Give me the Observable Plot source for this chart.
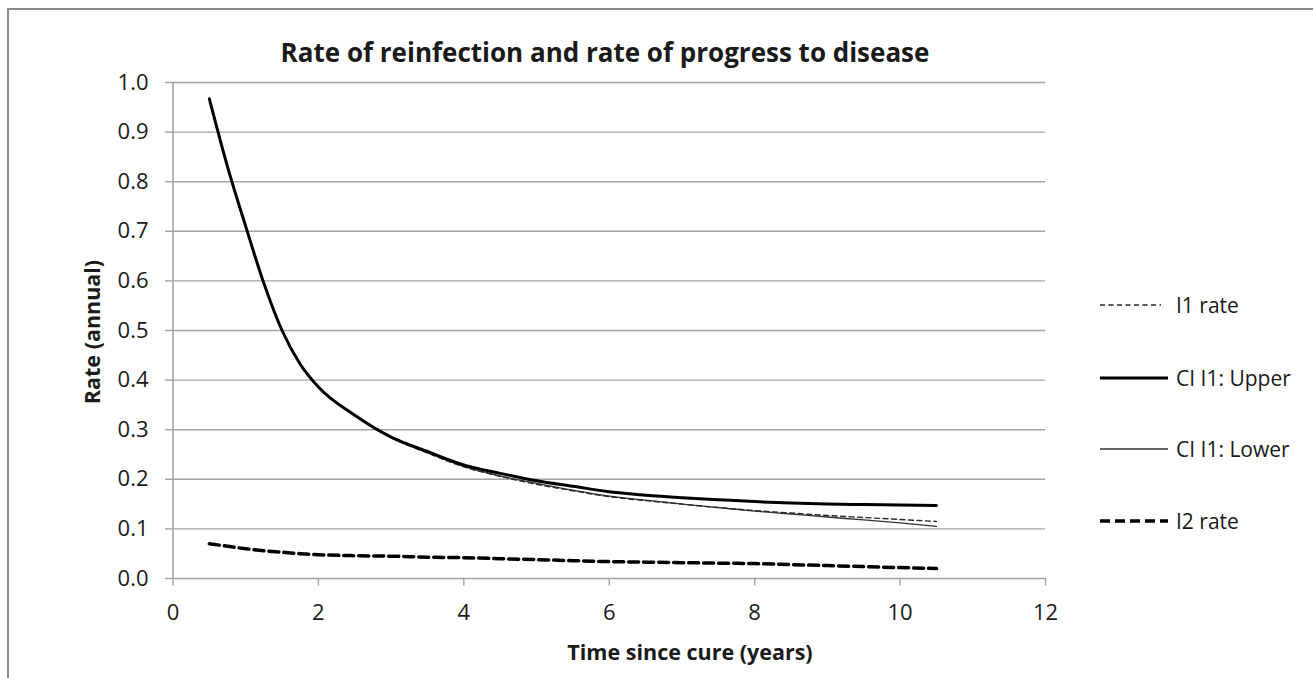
<!DOCTYPE html>
<html>
<head>
<meta charset="utf-8">
<script src="https://cdn.jsdelivr.net/npm/d3@7"></script>
<script src="https://cdn.jsdelivr.net/npm/@observablehq/plot@0.6"></script>
<style>
  html, body { margin: 0; padding: 0; background: #fff; overflow: hidden; }
  #wrap { position: relative; width: 1313px; height: 678px; font-family: "Open Sans", sans-serif; color: #1a1a1a; }
  #frame { position: absolute; left: 7px; top: 8px; width: 1400px; height: 800px; border-left: 2px solid #8a8a8a; border-top: 2px solid #8a8a8a; box-sizing: border-box; }
  #chart { position: absolute; left: 0; top: 0; }
  .title { position: absolute; font-weight: 700; font-size: 26px; white-space: nowrap; transform: translate(-50%, -50%); }
  .ytitle { position: absolute; font-weight: 700; font-size: 21.5px; white-space: nowrap; transform: translate(-50%, -50%) rotate(-90deg); }
  .xtitle { position: absolute; font-weight: 700; font-size: 21.5px; white-space: nowrap; transform: translate(-50%, -50%); }
  .leg { position: absolute; left: 1098px; display: flex; align-items: center; transform: translateY(-50%); font-size: 21px; white-space: nowrap; }
  .leg svg { margin-right: 6px; }
</style>
</head>
<body>
<div id="wrap">
  <div id="frame"></div>
  <div id="chart"></div>
</div>
<script>
// ---- data ----
const years = [0.5, 0.75, 1, 1.25, 1.5, 1.75, 2, 2.5, 3, 3.5, 4, 4.5, 5, 5.5, 6, 6.5, 7, 7.5, 8, 8.5, 9, 9.5, 10, 10.5];
const i1Rate  = [0.967, 0.83, 0.71, 0.595, 0.50, 0.432, 0.386, 0.329, 0.284, 0.253, 0.225, 0.206, 0.190, 0.177, 0.165, 0.157, 0.150, 0.143, 0.137, 0.132, 0.127, 0.123, 0.119, 0.115];
const ciUpper = [0.967, 0.83, 0.71, 0.595, 0.50, 0.432, 0.386, 0.329, 0.285, 0.256, 0.229, 0.212, 0.197, 0.186, 0.175, 0.168, 0.163, 0.159, 0.155, 0.152, 0.150, 0.149, 0.148, 0.147];
const ciLower = [0.967, 0.83, 0.71, 0.595, 0.50, 0.432, 0.386, 0.329, 0.285, 0.254, 0.226, 0.207, 0.192, 0.178, 0.166, 0.158, 0.150, 0.143, 0.136, 0.130, 0.124, 0.118, 0.112, 0.105];
const i2Rate  = [0.070, 0.065, 0.060, 0.056, 0.053, 0.050, 0.048, 0.046, 0.045, 0.043, 0.042, 0.040, 0.038, 0.036, 0.034, 0.033, 0.032, 0.031, 0.030, 0.028, 0.026, 0.024, 0.022, 0.020];
const seriesNames = ["I1 rate", "CI I1: Upper", "CI I1: Lower", "I2 rate"];
const xTicks = [0, 2, 4, 6, 8, 10, 12];
const yTicks = [0, 0.1, 0.2, 0.3, 0.4, 0.5, 0.6, 0.7, 0.8, 0.9, 1.0];
const titleText = "Rate of reinfection and rate of progress to disease";
const xLabel = "Time since cure (years)";
const yLabel = "Rate (annual)";

const styles = {
  "I1 rate":      {stroke: "#2a2a2a", strokeWidth: 1.4, dash: "5,3.5"},
  "CI I1: Upper": {stroke: "#000",    strokeWidth: 3,   dash: null},
  "CI I1: Lower": {stroke: "#333",    strokeWidth: 1.3, dash: null},
  "I2 rate":      {stroke: "#000",    strokeWidth: 3.5, dash: "10,5"}
};
const valuesBy = {"I1 rate": i1Rate, "CI I1: Upper": ciUpper, "CI I1: Lower": ciLower, "I2 rate": i2Rate};
const rows = n => years.map((x, i) => ({x, y: valuesBy[n][i]}));

const lineMark = n => Plot.line(rows(n), {
  x: "x", y: "y", curve: "monotone-x",
  stroke: styles[n].stroke, strokeWidth: styles[n].strokeWidth,
  strokeDasharray: styles[n].dash || undefined
});

const grid = "#a3a3a3";
const plot = Plot.plot({
  width: 1313, height: 678,
  marginLeft: 172.5, marginRight: 268, marginTop: 82, marginBottom: 100,
  x: {domain: [0, 12]},
  y: {domain: [0, 1]},
  style: {fontFamily: "Open Sans, sans-serif", fontSize: "22px", background: "transparent", overflow: "visible"},
  marks: [
    Plot.ruleY(yTicks.filter(d => d > 0), {stroke: grid, strokeWidth: 1.4}),
    Plot.axisY({ticks: yTicks, tickSize: 7.5, tickPadding: 17, tickFormat: d3.format(".1f"), stroke: grid, strokeWidth: 1.4, color: "#1a1a1a", label: null}),
    Plot.axisX({ticks: xTicks, tickSize: 7.5, tickPadding: 18, tickFormat: d3.format("d"), stroke: grid, strokeWidth: 1.4, color: "#1a1a1a", label: null}),
    Plot.ruleX([0], {stroke: grid, strokeWidth: 1.6}),
    Plot.ruleY([0], {stroke: grid, strokeWidth: 1.6}),
    lineMark("I2 rate"),
    lineMark("CI I1: Lower"),
    lineMark("I1 rate"),
    lineMark("CI I1: Upper")
  ]
});
document.getElementById("chart").appendChild(plot);

const wrap = document.getElementById("wrap");
function addDiv(cls, text, left, top) {
  const d = document.createElement("div");
  d.className = cls; d.textContent = text;
  d.style.left = left + "px"; d.style.top = top + "px";
  wrap.appendChild(d);
  return d;
}
addDiv("title", titleText, 605, 52);
addDiv("ytitle", yLabel, 91, 332);
addDiv("xtitle", xLabel, 690, 651);

const legendY = [305, 378, 449, 521];
seriesNames.forEach((n, i) => {
  const d = document.createElement("div");
  d.className = "leg";
  d.style.top = legendY[i] + "px";
  const s = styles[n];
  const w = n === "I1 rate" ? 63 : 70;
  d.innerHTML = `<svg width="72" height="10"><line x1="2" x2="${w}" y1="5" y2="5" stroke="${s.stroke}" stroke-width="${s.strokeWidth}" ${s.dash ? `stroke-dasharray="${s.dash}"` : ""}/></svg><span>${n}</span>`;
  wrap.appendChild(d);
});
</script>
</body>
</html>
